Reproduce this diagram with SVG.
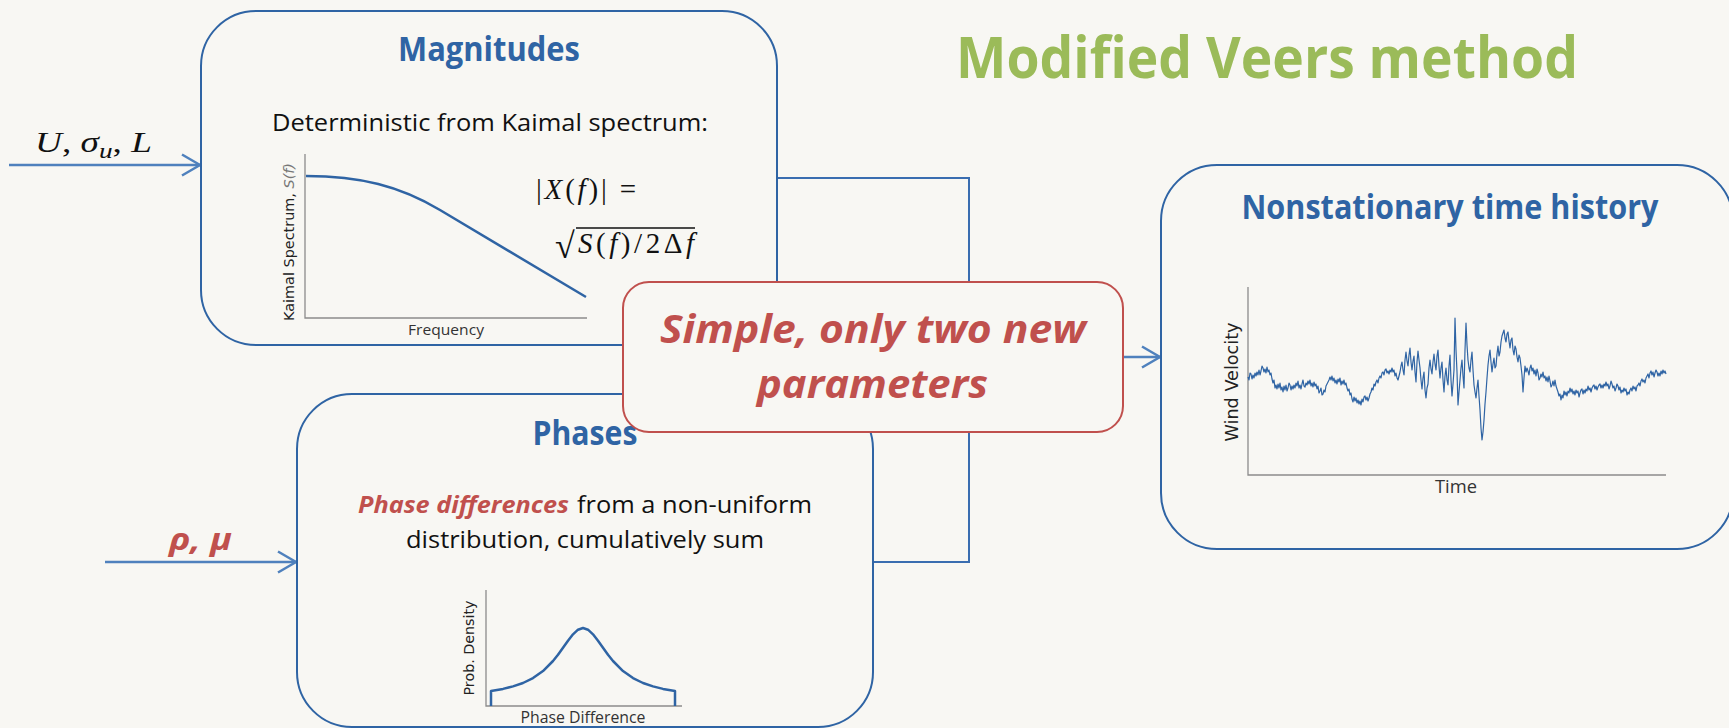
<svg xmlns="http://www.w3.org/2000/svg" width="1729" height="728" viewBox="0 0 1729 728">
  <defs>
    <style>
      .bg{fill:#F8F7F3}
      .box{fill:#F8F7F3;stroke:#2F64A4;stroke-width:2}
      .callout{fill:#F8F7F3;stroke:#C0504D;stroke-width:2}
      .hdr{font-family:'Open Sans','Noto Sans','Liberation Sans',sans-serif;font-weight:700;fill:#2F64A4;text-anchor:middle}
      .body{font-family:'Open Sans','Noto Sans','Liberation Sans',sans-serif;fill:#111}
      .emph{font-family:'Open Sans','Noto Sans','Liberation Sans',sans-serif;font-weight:700;font-style:italic;fill:#C0504D}
      .math{font-family:'Liberation Serif','DejaVu Serif',serif;fill:#111}
      .mi{font-style:italic}
      .axis{stroke:#8C8C8C;stroke-width:1.3;fill:none}
      .curve{stroke:#2F64A4;stroke-width:2.5;fill:none;stroke-linejoin:round}
      .trace{stroke:#2F64A4;stroke-width:1.2;fill:none;stroke-linejoin:round}
      .ax-lbl{font-family:'DejaVu Sans',sans-serif;fill:#222}
      .ax-cap{font-family:'Open Sans','Noto Sans',sans-serif;fill:#333;text-anchor:middle}
      .conn{stroke:#3A6DB0;stroke-width:2;fill:none}
      .feed{stroke:#4F81BD;stroke-width:2.5;fill:none}
    </style>
    <marker id="chev" viewBox="0 0 22 24" refX="20" refY="12" markerWidth="22" markerHeight="24" markerUnits="userSpaceOnUse" orient="auto">
      <path d="M2,1.5 L20,12 L2,22.5" fill="none" stroke="#4F81BD" stroke-width="2.5" stroke-linejoin="miter"/>
    </marker>
  </defs>

  <rect class="bg" x="0" y="0" width="1729" height="728"/>

  <!-- heading -->
  <g id="heading">
    <text x="956" y="78" font-family="'Open Sans','Noto Sans','Liberation Sans',sans-serif" font-weight="700" font-size="57" fill="#9BBB59" textLength="622" lengthAdjust="spacingAndGlyphs">Modified Veers method</text>
  </g>

  <!-- connectors -->
  <g id="connectors">
    <path class="conn" d="M777,178 H969 V357"/>
    <path class="conn" d="M873,562 H969 V357"/>
    <path class="feed" d="M969,357 H1160" marker-end="url(#chev)"/>
    <path class="feed" d="M9,165 H200" marker-end="url(#chev)"/>
    <path class="feed" d="M105,562 H296" marker-end="url(#chev)"/>
  </g>

  <!-- input labels -->
  <g id="input-spectrum">
    <text class="math" x="35" y="152" font-size="30" textLength="117" lengthAdjust="spacingAndGlyphs"><tspan class="mi">U</tspan>, <tspan class="mi">σ</tspan><tspan class="mi" font-size="22" dy="6">u</tspan><tspan dy="-6">, </tspan><tspan class="mi">L</tspan></text>
  </g>
  <g id="input-phase">
    <text class="emph" x="169" y="550" font-size="30" textLength="63" lengthAdjust="spacingAndGlyphs">ρ, μ</text>
  </g>

  <!-- Magnitudes node -->
  <g id="node-magnitudes">
    <rect class="box" x="201" y="11" width="576" height="334" rx="55" ry="55"/>
    <text class="hdr" x="489" y="61" font-size="34" textLength="182" lengthAdjust="spacingAndGlyphs">Magnitudes</text>
    <text class="body" x="272" y="131" font-size="24" textLength="436" lengthAdjust="spacingAndGlyphs">Deterministic from Kaimal spectrum:</text>
    <path class="axis" d="M305,154 V318 H587"/>
    <path class="curve" d="M306,176 C360,176 400,186 440,210 L586,297"/>
    <text class="ax-lbl" transform="translate(294,242) rotate(-90)" font-size="14" text-anchor="middle" textLength="158" lengthAdjust="spacingAndGlyphs">Kaimal Spectrum, <tspan font-style="italic" fill="#777">S(f)</tspan></text>
    <text class="ax-cap" x="446" y="335" font-size="15" textLength="76" lengthAdjust="spacingAndGlyphs">Frequency</text>
    <text class="math" x="536" y="199" font-size="29" textLength="100" lengthAdjust="spacing">|<tspan class="mi">X</tspan>(<tspan class="mi">f</tspan>)| =</text>
    <text class="math" x="555" y="258" font-size="36">√</text>
    <line x1="576" y1="228" x2="695" y2="228" stroke="#111" stroke-width="1.6"/>
    <text class="math" x="578" y="253" font-size="29" textLength="116" lengthAdjust="spacing"><tspan class="mi">S</tspan>(<tspan class="mi">f</tspan>)/2Δ<tspan class="mi">f</tspan></text>
  </g>

  <!-- Phases node -->
  <g id="node-phases">
    <rect class="box" x="297" y="394" width="576" height="333" rx="55" ry="55"/>
    <text class="hdr" x="585" y="445" font-size="34" textLength="105" lengthAdjust="spacingAndGlyphs">Phases</text>
    <text class="emph" x="358" y="513" font-size="24" font-weight="600" textLength="211" lengthAdjust="spacingAndGlyphs">Phase differences</text>
    <text class="body" x="577" y="513" font-size="24" textLength="235" lengthAdjust="spacingAndGlyphs">from a non-uniform</text>
    <text class="body" x="406" y="548" font-size="24" textLength="358" lengthAdjust="spacingAndGlyphs">distribution, cumulatively sum</text>
    <path class="axis" d="M486,590 V706 H682"/>
    <polyline class="curve" points="491,706 491,691 503,688.9 513,686.4 523,683 533,678.1 543,671.1 553,661 558,654.8 563,647.8 568,640.7 573,634.3 578,629.7 583,628 588,629.7 593,634.3 598,640.7 603,647.8 608,654.8 613,661 623,671.1 633,678.1 643,683 653,686.4 663,688.9 675,691 675,706"/>
    <text class="ax-lbl" transform="translate(474,648) rotate(-90)" font-size="14" text-anchor="middle" textLength="95" lengthAdjust="spacingAndGlyphs">Prob. Density</text>
    <text class="ax-cap" x="583" y="723" font-size="16" textLength="125" lengthAdjust="spacingAndGlyphs">Phase Difference</text>
  </g>

  <!-- Nonstationary time history node -->
  <g id="node-history">
    <rect class="box" x="1161" y="165" width="572" height="384" rx="56" ry="56"/>
    <text class="hdr" x="1450" y="219" font-size="34" textLength="417" lengthAdjust="spacingAndGlyphs">Nonstationary time history</text>
    <path class="axis" d="M1248,287 V475 H1666"/>
    <polyline class="trace" points="1248,377 1249,380 1250,373 1251,374 1252,379 1253,375 1254,378 1255,373 1256,376 1257,372 1258,375 1259,370 1260,375 1261,371 1262,366 1263,368 1264,372 1265,369 1266,373 1267,367 1268,372 1269,370 1270,375 1271,373 1272,379 1273,383 1274,380 1275,388 1276,385 1277,389 1278,384 1279,388 1280,383 1281,390 1282,387 1283,392 1284,386 1285,390 1286,385 1287,391 1288,388 1289,383 1290,385 1291,390 1292,386 1293,389 1294,385 1295,388 1296,383 1297,386 1298,381 1299,388 1300,385 1301,389 1302,384 1303,380 1304,386 1305,387 1306,383 1307,385 1308,381 1309,384 1310,380 1311,386 1312,383 1313,387 1314,382 1315,386 1316,384 1317,389 1318,386 1319,393 1320,391 1321,388 1322,395 1323,394 1324,390 1325,392 1326,386 1327,384 1328,382 1329,380 1330,377 1331,380 1332,376 1333,381 1334,378 1335,383 1336,380 1337,384 1338,379 1339,382 1340,378 1341,385 1342,381 1343,384 1344,380 1345,385 1346,383 1347,388 1348,391 1349,389 1350,395 1351,393 1352,399 1353,402 1354,397 1355,401 1356,398 1357,403 1358,400 1359,404 1360,401 1361,405 1362,399 1363,402 1364,397 1365,396 1366,400 1367,397 1368,401 1369,398 1370,394 1371,392 1372,388 1373,390 1374,384 1375,386 1376,382 1377,380 1378,383 1379,378 1380,376 1381,378 1382,373 1383,372 1384,375 1385,370 1386,369 1387,373 1388,371 1389,374 1390,370 1391,372 1392,368 1393,372 1394,370 1395,376 1396,373 1397,378 1398,380 1399,376 1400,372 1401,366 1402,362 1403,370 1404,375 1405,360 1406,352 1407,361 1408,366 1409,355 1410,348 1411,362 1412,370 1413,361 1414,356 1415,372 1416,382 1417,362 1418,351 1419,360 1420,368 1421,380 1422,389 1423,378 1424,372 1425,390 1426,398 1427,388 1428,384 1429,368 1430,360 1431,369 1432,374 1433,362 1434,354 1435,364 1436,370 1437,356 1438,350 1439,366 1440,378 1441,368 1442,362 1443,380 1444,392 1445,376 1446,368 1447,380 1448,385 1449,366 1450,355 1451,380 1452,396 1453,384 1454,370 1455,318 1456,350 1457,372 1458,405 1459,392 1460,380 1461,368 1462,360 1463,376 1464,388 1465,350 1466,323 1467,345 1468,360 1469,368 1470,372 1471,360 1472,352 1473,370 1474,385 1475,392 1476,398 1477,388 1478,380 1479,396 1480,410 1481,428 1482,440 1483,432 1484,420 1485,404 1486,392 1487,378 1488,365 1489,356 1490,350 1491,362 1492,372 1493,364 1494,358 1495,368 1496,366 1497,354 1498,346 1499,356 1500,352 1501,342 1502,336 1503,333 1504,330 1505,338 1506,342 1507,334 1508,332 1509,341 1510,348 1511,340 1512,338 1513,350 1514,355 1515,346 1516,349 1517,357 1518,362 1519,355 1520,358 1521,366 1522,375 1523,392 1524,378 1525,366 1526,372 1527,368 1528,371 1529,375 1530,368 1531,365 1532,371 1533,368 1534,374 1535,370 1536,376 1537,369 1538,373 1539,380 1540,378 1541,374 1542,377 1543,372 1544,378 1545,376 1546,381 1547,377 1548,382 1549,376 1550,381 1551,387 1552,385 1553,381 1554,386 1555,380 1556,386 1557,389 1558,392 1559,396 1560,394 1561,400 1562,395 1563,398 1564,391 1565,395 1566,392 1567,396 1568,391 1569,393 1570,388 1571,392 1572,389 1573,394 1574,391 1575,395 1576,390 1577,393 1578,391 1579,397 1580,393 1581,390 1582,389 1583,394 1584,390 1585,393 1586,389 1587,391 1588,386 1589,390 1590,388 1591,392 1592,388 1593,386 1594,385 1595,389 1596,386 1597,390 1598,387 1599,385 1600,384 1601,388 1602,385 1603,388 1604,384 1605,386 1606,382 1607,386 1608,384 1609,389 1610,386 1611,381 1612,384 1613,388 1614,386 1615,391 1616,388 1617,384 1618,386 1619,390 1620,387 1621,393 1622,390 1623,392 1624,388 1625,391 1626,389 1627,395 1628,392 1629,394 1630,390 1631,388 1632,391 1633,386 1634,389 1635,387 1636,391 1637,386 1638,385 1639,383 1640,386 1641,381 1642,379 1643,382 1644,380 1645,383 1646,378 1647,376 1648,374 1649,378 1650,373 1651,371 1652,375 1653,372 1654,377 1655,373 1656,370 1657,372 1658,376 1659,373 1660,376 1661,371 1662,374 1663,370 1664,373 1665,371 1666,374"/>
    <text class="ax-lbl" transform="translate(1238,382) rotate(-90)" font-size="17" text-anchor="middle" textLength="119" lengthAdjust="spacingAndGlyphs">Wind Velocity</text>
    <text class="ax-cap" x="1456" y="493" font-size="18" fill="#111" textLength="42" lengthAdjust="spacingAndGlyphs">Time</text>
  </g>

  <!-- call-out over the junction -->
  <g id="node-callout">
    <rect class="callout" x="623" y="282" width="500" height="150" rx="26" ry="26"/>
    <text class="emph" x="660" y="343" font-size="40" textLength="426" lengthAdjust="spacingAndGlyphs">Simple, only two new</text>
    <text class="emph" x="757" y="398" font-size="40" textLength="231" lengthAdjust="spacingAndGlyphs">parameters</text>
  </g>
</svg>
